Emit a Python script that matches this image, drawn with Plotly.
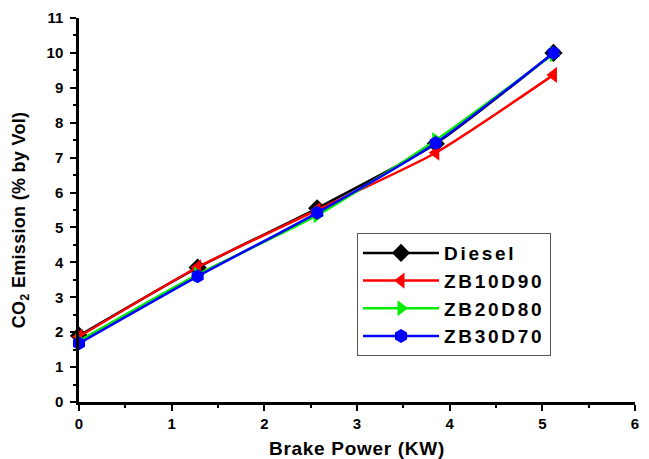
import plotly.graph_objects as go

power = [0, 1.28, 2.57, 3.85, 5.12]
diesel = [1.9, 3.85, 5.55, 7.4, 10.0]
zb10d90 = [1.87, 3.86, 5.5, 7.14, 9.37]
zb20d80 = [1.75, 3.65, 5.35, 7.5, 9.97]
zb30d70 = [1.68, 3.6, 5.42, 7.42, 10.0]

series = [
    ("Diesel", diesel, "black", "diamond"),
    ("ZB10D90", zb10d90, "red", "triangle-left"),
    ("ZB20D80", zb20d80, "#00ee00", "triangle-right"),
    ("ZB30D70", zb30d70, "blue", "hexagon"),
]

def spaced(t, px):
    return f'<span style="letter-spacing:{px}px">{t}</span>'

fig = go.Figure()
for name, vals, col, sym in series:
    fig.add_trace(go.Scatter(
        x=power, y=vals, name=spaced(name, 2.7), mode="lines+markers",
        line=dict(color=col, width=2.5, shape="spline", smoothing=0.6),
        marker=dict(color=col, symbol=sym, size=14),
        cliponaxis=False,
    ))

fig.update_layout(
    width=641, height=451,
    paper_bgcolor="white", plot_bgcolor="white",
    margin=dict(l=71, r=14, t=10, b=57),
    font=dict(family="Liberation Sans", color="black"),
    showlegend=True,
    legend=dict(
        x=0.5, y=0.44, xanchor="left", yanchor="top",
        bordercolor="#555", borderwidth=1, bgcolor="white",
        font=dict(size=19, family="Liberation Sans", color="black", weight="bold"),
        tracegroupgap=0, itemwidth=76,
    ),
    xaxis=dict(
        range=[0, 6], tickvals=[0, 1, 2, 3, 4, 5, 6],
        showgrid=False, zeroline=False, automargin=False,
        showline=True, linecolor="black", linewidth=2.5,
        ticks="outside", ticklen=6, tickwidth=2, tickcolor="black",
        minor=dict(ticks="outside", ticklen=3, tickwidth=2, tickcolor="black", dtick=0.5),
        tickfont=dict(size=15, weight="bold"),
        title=dict(text=spaced("Brake Power (KW)", 0.7), font=dict(size=19, weight="bold"), standoff=13),
    ),
    yaxis=dict(
        range=[0, 11], tickvals=list(range(0, 12)),
        showgrid=False, zeroline=False, automargin=False,
        showline=True, linecolor="black", linewidth=2.5,
        ticks="outside", ticklen=6, tickwidth=2, tickcolor="black", ticklabelstandoff=4,
        minor=dict(ticks="outside", ticklen=3, tickwidth=2, tickcolor="black", dtick=0.5),
        tickfont=dict(size=15, weight="bold"),
        title=dict(text=spaced("CO<sub>2</sub> Emission (% by Vol)", 0.3) + "&nbsp;&nbsp;&nbsp;&nbsp;",
                   font=dict(size=18, weight="bold"), standoff=17),
    ),
)

fig.write_html("out.html")
